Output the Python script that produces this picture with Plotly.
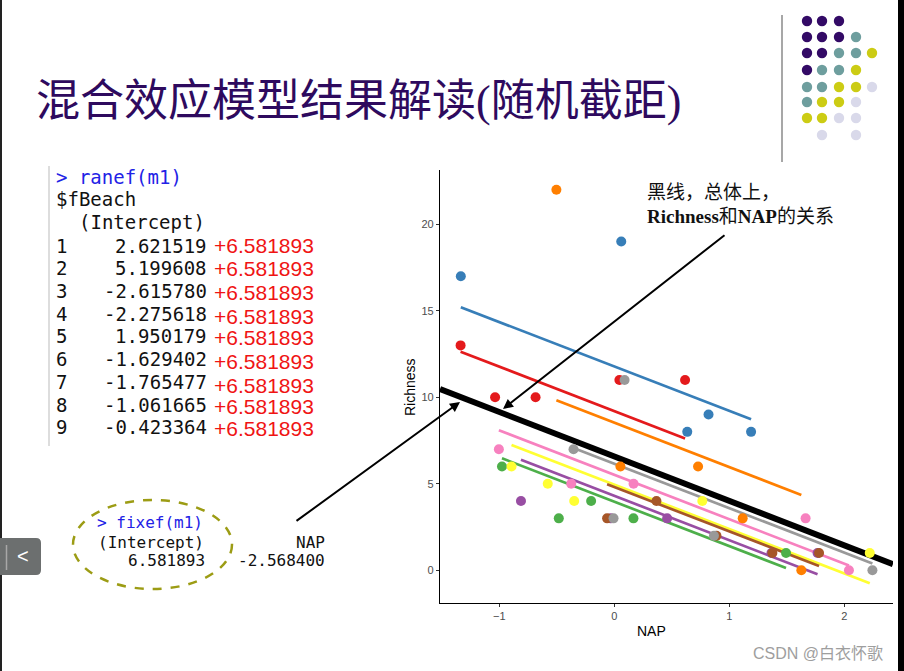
import plotly.graph_objects as go

W, H = 904, 671


def px(x):
    return x / W


def py(y):
    return 1 - y / H


# ---------------- data ----------------
beach_labels = ["1", "2", "3", "4", "5", "6", "7", "8", "9"]
beach_colors = ["#E41A1C", "#377EB8", "#4DAF4A", "#984EA3", "#FF7F00",
                "#FFFF33", "#A65628", "#F781BF", "#999999"]

nap_b1 = [0.045, -1.036, -1.336, 0.616, -0.684]
rich_b1 = [11, 10, 13, 11, 10]
nap_b2 = [1.190, 0.820, 0.635, 0.061, -1.334]
rich_b2 = [8, 9, 8, 19, 17]
nap_b3 = [-0.976, 1.494, -0.201, -0.482, 0.167]
rich_b3 = [6, 1, 4, 3, 3]
nap_b4 = [1.768, -0.030, 0.460, 1.367, -0.811]
rich_b4 = [1, 3, 3, 1, 4]
nap_b5 = [1.117, -0.503, 0.729, 1.627, 0.054]
rich_b5 = [3, 22, 6, 0, 6]
nap_b6 = [-0.578, -0.348, 2.222, -0.893, 0.766]
rich_b6 = [5, 4, 1, 6, 4]
nap_b7 = [-0.062, 0.367, 0.889, 1.375, 1.781]
rich_b7 = [3, 4, 2, 1, 1]
nap_b8 = [-1.003, -0.374, 0.168, 1.664, 2.041]
rich_b8 = [7, 5, 5, 3, 0]
nap_b9 = [-0.354, -0.006, 0.090, 0.867, 2.245]
rich_b9 = [7, 3, 11, 2, 0]

nap_all = [nap_b1, nap_b2, nap_b3, nap_b4, nap_b5, nap_b6, nap_b7, nap_b8, nap_b9]
rich_all = [rich_b1, rich_b2, rich_b3, rich_b4, rich_b5, rich_b6, rich_b7, rich_b8, rich_b9]

ranef_intercepts = [2.621519, 5.199608, -2.615780, -2.275618, 1.950179,
                    -1.629402, -1.765477, -1.061665, -0.423364]
ranef_text = ["2.621519", "5.199608", "-2.615780", "-2.275618", "1.950179",
              "-1.629402", "-1.765477", "-1.061665", "-0.423364"]
fixef_intercept = 6.581893
fixef_nap = -2.568400
fixef_intercept_text = "6.581893"
fixef_nap_text = "-2.568400"
added_text = "+6.581893"

x_ticks = [-1, 0, 1, 2]
y_ticks = [0, 5, 10, 15, 20]

# ---------------- figure ----------------
fig = go.Figure()

fit_x, fit_y = [], []
for i in range(9):
    x0, x1 = min(nap_all[i]), max(nap_all[i])
    a = fixef_intercept + ranef_intercepts[i]
    xs = [x0, x1]
    ys = [a + fixef_nap * x for x in xs]
    fit_x += xs
    fit_y += ys
    fig.add_trace(go.Scatter(x=xs, y=ys, mode="lines",
                             line=dict(color=beach_colors[i], width=2.7),
                             showlegend=False, hoverinfo="skip"))

all_x = [v for arr in nap_all for v in arr]
all_y = [v for arr in rich_all for v in arr] + fit_y
xspan = max(all_x) - min(all_x)
x_range = [min(all_x) - 0.05 * xspan, max(all_x) + 0.05 * xspan]
yspan = max(all_y) - min(all_y)
y_range = [min(all_y) - 0.05 * yspan, max(all_y) + 0.05 * yspan]

# population-level (fixed effect) line across the panel
fig.add_trace(go.Scatter(x=x_range,
                         y=[fixef_intercept + fixef_nap * x for x in x_range],
                         mode="lines", line=dict(color="black", width=6),
                         showlegend=False, hoverinfo="skip"))

for i in range(9):
    fig.add_trace(go.Scatter(x=nap_all[i], y=rich_all[i], mode="markers",
                             marker=dict(color=beach_colors[i], size=10,
                                         line=dict(width=0)),
                             name=beach_labels[i], showlegend=False))

fig.update_xaxes(domain=[px(440), px(893)], range=x_range, tickvals=x_ticks,
                 showline=True, linecolor="black", linewidth=1.3,
                 ticks="outside", ticklen=3, tickcolor="#333333", tickwidth=1,
                 showgrid=False, zeroline=False,
                 tickfont=dict(family="Liberation Sans, Arial", size=11, color="#4D4D4D"))
fig.update_yaxes(domain=[py(603), py(170)], range=y_range, tickvals=y_ticks,
                 showline=True, linecolor="black", linewidth=1.3,
                 ticks="outside", ticklen=3, tickcolor="#333333", tickwidth=1,
                 showgrid=False, zeroline=False,
                 tickfont=dict(family="Liberation Sans, Arial", size=11, color="#4D4D4D"))

ann = []


def text(x, y, s, size, color="black", family="DejaVu Sans Mono", xanchor="left",
         yanchor="middle", textangle=0):
    ann.append(dict(x=px(x), y=py(y), xref="paper", yref="paper", text=s,
                    showarrow=False, xanchor=xanchor, yanchor=yanchor,
                    textangle=textangle, borderpad=0,
                    font=dict(family=family, size=size, color=color)))


# axis titles
text(651, 631, "NAP", 14, "black", "Liberation Sans, Arial", "center")
text(410, 387, "Richness", 14, "black", "Liberation Sans, Arial", "center", textangle=-90)

# title
text(35, 101, "混合效应模型结果解读(随机截距)", 44, "#2E0A5E",
     "Liberation Serif, Noto Sans CJK SC")

# console: ranef
mono = "DejaVu Sans Mono"
text(55, 177, "&gt; ranef(m1)", 19, "#2222E6", mono)
text(55, 199, "$fBeach", 19, "#111111", mono)
text(78, 222, "(Intercept)", 19, "#111111", mono)
row_y = [246, 268, 291, 314, 336, 359, 382, 405, 427]
red_y = [245, 268, 292, 316, 337, 361, 385, 406, 428]
for i in range(9):
    text(55, row_y[i], beach_labels[i], 19, "#111111", mono)
    text(208, row_y[i], ranef_text[i], 19, "#111111", mono, "right")
    text(213, red_y[i], added_text, 21, "#F01414", "Liberation Sans, Arial")

# console: fixef
text(96, 522, "&gt; fixef(m1)", 16, "#2222E6", mono)
text(97, 542, "(Intercept)", 16, "#111111", mono)
text(326, 542, "NAP", 16, "#111111", mono, "right")
text(206, 560, fixef_intercept_text, 16, "#111111", mono, "right")
text(326, 560, fixef_nap_text, 16, "#111111", mono, "right")

# note text
serif = "Liberation Serif, Noto Sans CJK SC"
text(646, 192, "黑线，总体上，", 19, "#111111", serif)
text(646, 216, "<b>Richness</b>和<b>NAP</b>的关系", 19, "#111111", serif)

# arrows
ann.append(dict(x=px(460), y=py(402), xref="paper", yref="paper", ax=295 - 460,
                ay=522 - 402, axref="pixel", ayref="pixel", showarrow=True,
                arrowhead=2, arrowsize=1, arrowwidth=2, arrowcolor="black", text=""))
ann.append(dict(x=px(503), y=py(409), xref="paper", yref="paper", ax=726 - 503,
                ay=234 - 409, axref="pixel", ayref="pixel", showarrow=True,
                arrowhead=2, arrowsize=1, arrowwidth=2, arrowcolor="black", text=""))

# nav button chevron and watermark
text(23, 556, "&lt;", 20, "white", "Liberation Sans, Arial", "center")
text(752, 653, "CSDN @白衣怀歌", 16, "#9E9E9E", "Liberation Sans, Noto Sans CJK SC")

shapes = []
# dashed ellipse
shapes.append(dict(type="circle", xref="paper", yref="paper", x0=px(73), x1=px(232),
                   y0=py(589), y1=py(500), line=dict(color="#9C9C14", width=2.5, dash="dash")))
# console gutter line
shapes.append(dict(type="line", xref="paper", yref="paper", x0=px(49), x1=px(49),
                   y0=py(166), y1=py(446), line=dict(color="#DDDDDD", width=2)))
# top-right separator
shapes.append(dict(type="line", xref="paper", yref="paper", x0=px(782), x1=px(782),
                   y0=py(15), y1=py(162), line=dict(color="#8A8A8A", width=1.5)))
# left edge and right edge strips
shapes.append(dict(type="rect", xref="paper", yref="paper", x0=0, x1=px(2), y0=0, y1=1,
                   line=dict(width=0), fillcolor="#222222"))
shapes.append(dict(type="rect", xref="paper", yref="paper", x0=px(898), x1=1, y0=0, y1=1,
                   line=dict(width=0), fillcolor="#000000"))
# nav button
bx0, bx1, by0, by1, r = 0, 41, 538, 575, 5
path = (f"M {px(bx0)},{py(by0)} L {px(bx1 - r)},{py(by0)} "
        f"Q {px(bx1)},{py(by0)} {px(bx1)},{py(by0 + r)} "
        f"L {px(bx1)},{py(by1 - r)} Q {px(bx1)},{py(by1)} {px(bx1 - r)},{py(by1)} "
        f"L {px(bx0)},{py(by1)} Z")
shapes.append(dict(type="path", xref="paper", yref="paper", path=path,
                   line=dict(width=0), fillcolor="#6C6F6F"))
shapes.append(dict(type="line", xref="paper", yref="paper", x0=px(6.5), x1=px(6.5),
                   y0=py(545), y1=py(570), line=dict(color="#A8A8A8", width=1.5)))

# decorative dot grid (top-right)
P, T, Y, L = "#330A66", "#6E9E9E", "#CCCC14", "#D9D9EA"
dot_cols = [807, 822, 839, 856, 872]
dot_rows = [21, 37, 53, 70, 87, 102, 118, 135]
dot_grid = [
    [P, P, P, None, None],
    [P, P, P, T, None],
    [P, P, T, T, Y],
    [P, T, T, Y, None],
    [T, T, Y, Y, L],
    [T, Y, Y, L, None],
    [Y, Y, L, L, None],
    [None, L, None, L, None],
]
for ri, row in enumerate(dot_grid):
    for ci, c in enumerate(row):
        if c is None:
            continue
        cx, cy = dot_cols[ci], dot_rows[ri]
        shapes.append(dict(type="circle", xref="paper", yref="paper",
                           x0=px(cx - 5.2), x1=px(cx + 5.2), y0=py(cy + 5.2), y1=py(cy - 5.2),
                           line=dict(width=0), fillcolor=c))

fig.update_layout(width=W, height=H, autosize=False,
                  margin=dict(l=0, r=0, t=0, b=0),
                  paper_bgcolor="white", plot_bgcolor="white",
                  showlegend=False, annotations=ann, shapes=shapes)

fig.write_html("out.html", config={"displayModeBar": False},
               post_script="document.body.style.margin='0px';document.body.style.overflow='hidden';")
